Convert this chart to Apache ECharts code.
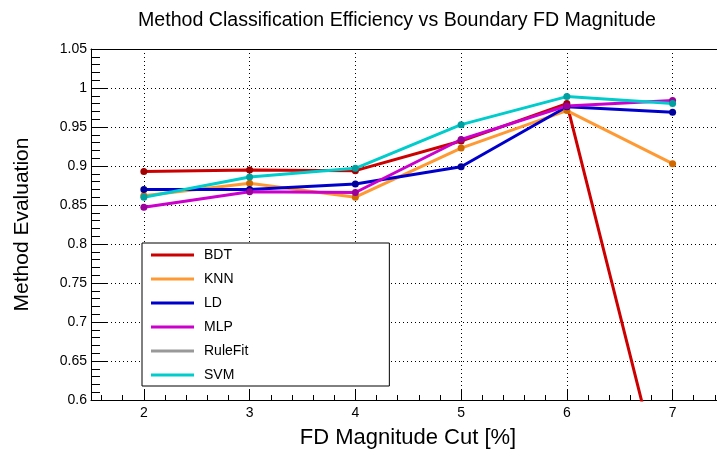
<!DOCTYPE html>
<html><head><meta charset="utf-8">
<script src="https://cdn.jsdelivr.net/npm/echarts@6/dist/echarts.min.js"></script>
<style>html,body{margin:0;padding:0;background:#fff}#c{width:717px;height:450px}</style>
</head><body><div id="c"></div>
<script>
const cuts = [2, 3, 4, 5, 6, 7];
const seriesNames = ['BDT', 'KNN', 'LD', 'MLP', 'RuleFit', 'SVM'];
const bdt = [0.893, 0.895, 0.894, 0.932, 0.980, 0.441];
const knn = [0.862, 0.878, 0.860, 0.923, 0.971, 0.903];
const ld = [0.870, 0.870, 0.877, 0.899, 0.976, 0.969];
const mlp = [0.847, 0.867, 0.866, 0.934, 0.977, 0.984];
const rulefit = [null, null, null, null, null, null];
const svm = [0.860, 0.886, 0.897, 0.953, 0.989, 0.980];
const xTickLabels = [2, 3, 4, 5, 6, 7];
const yTickLabels = ['0.6','0.65','0.7','0.75','0.8','0.85','0.9','0.95','1','1.05'];

const values = [bdt, knn, ld, mlp, rulefit, svm];
const lineColors = ['#cc0000', '#ff9933', '#0000cc', '#cc00cc', '#999999', '#00cccc'];
const dotColors = ['#a00000', '#d06a00', '#00009a', '#9a009a', '#7a7a7a', '#00a0a0'];
const FONT = 'Liberation Sans';

const xMin = 1.5, xMax = 7.42;
const xMinor = [];
for (let k = Math.ceil(xMin * 5); k <= Math.floor(xMax * 5); k++) {
  if (k % 5 !== 0) xMinor.push(k / 5);
}

const chart = echarts.init(document.getElementById('c'), null, {renderer: 'canvas'});
const gridLine = {show: true, lineStyle: {color: '#000', width: 1, type: [1, 3]}};
chart.setOption({
  animation: false,
  backgroundColor: '#fff',
  title: {
    text: 'Method Classification Efficiency vs Boundary FD Magnitude',
    left: 392, top: 6, textAlign: 'center',
    textStyle: {fontFamily: FONT, fontSize: 19.6, fontWeight: 'normal', color: '#000'}
  },
  grid: {left: 91, top: 49, right: 0, height: 351, show: false, outerBoundsMode: 'none', containLabel: false},
  legend: {
    orient: 'vertical', left: 142, top: 243,
    padding: [5, 141, 4, 9], itemGap: 10, itemWidth: 43, itemHeight: 3, icon: 'rect',
    backgroundColor: '#fff', borderColor: '#000', borderWidth: 1,
    textStyle: {fontFamily: FONT, fontSize: 14, color: '#000', padding: [0, 0, 0, 5]},
    data: seriesNames.map((n, i) => ({name: n, itemStyle: {color: lineColors[i]}}))
  },
  xAxis: [{
    type: 'value', min: xMin, max: xMax,
    name: 'FD Magnitude Cut [%]', nameLocation: 'middle', nameGap: 27,
    nameTextStyle: {fontFamily: FONT, fontSize: 22, color: '#000', padding: [0, 0, 0, 8]},
    axisLine: {show: true, onZero: false, lineStyle: {color: '#000', width: 1}},
    axisTick: {show: true, inside: true, length: 11, customValues: xTickLabels, lineStyle: {color: '#000'}},
    axisLabel: {show: true, customValues: xTickLabels, margin: 6, fontFamily: FONT, fontSize: 14, color: '#000'},
    splitLine: gridLine
  }, {
    type: 'value', min: xMin, max: xMax, position: 'bottom',
    axisLine: {show: false},
    axisTick: {show: true, inside: true, length: 5, customValues: xMinor, lineStyle: {color: '#000'}},
    axisLabel: {show: false},
    splitLine: {show: false}
  }, {
    type: 'value', min: xMin, max: xMax, position: 'top',
    axisLine: {show: true, onZero: false, lineStyle: {color: '#000', width: 1}},
    axisTick: {show: false}, axisLabel: {show: false}, splitLine: {show: false}
  }],
  yAxis: {
    type: 'value', min: 0.6, max: 1.05, interval: 0.05,
    name: 'Method Evaluation', nameLocation: 'middle', nameGap: 58,
    nameTextStyle: {fontFamily: FONT, fontSize: 21, color: '#000'},
    axisLine: {show: true, onZero: false, lineStyle: {color: '#000', width: 1}},
    axisTick: {show: true, inside: true, length: 17, lineStyle: {color: '#000'}},
    minorTick: {show: true, splitNumber: 5, length: 9, lineStyle: {color: '#000'}},
    axisLabel: {margin: 4, fontFamily: FONT, fontSize: 14, color: '#000',
      formatter: (v) => { const i = Math.round((v - 0.6) / 0.05); return yTickLabels[i] !== undefined ? yTickLabels[i] : ''; }},
    splitLine: gridLine
  },
  series: values.map((vals, i) => ({
    name: seriesNames[i], type: 'line', xAxisIndex: 0,
    data: cuts.map((c, j) => [c, vals[j]]),
    symbol: 'circle', symbolSize: 7, showSymbol: true,
    lineStyle: {color: lineColors[i], width: 3},
    itemStyle: {color: dotColors[i]},
    emphasis: {disabled: true},
    clip: true, connectNulls: false
  }))
});
</script></body></html>
